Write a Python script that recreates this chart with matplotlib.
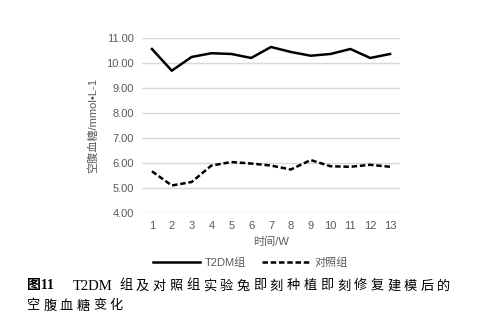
import matplotlib.pyplot as plt

plt.rcParams['font.family'] = ['Liberation Sans', 'Noto Sans CJK SC', 'DejaVu Sans']

# 数据
weeks = list(range(1, 14))
t2dm = [10.56, 9.69, 10.24, 10.39, 10.36, 10.20, 10.64, 10.44, 10.29, 10.36, 10.56, 10.20, 10.36]
control = [5.66, 5.09, 5.23, 5.89, 6.03, 5.97, 5.89, 5.73, 6.11, 5.86, 5.84, 5.92, 5.84]
yticks = [4, 5, 6, 7, 8, 9, 10, 11]
caption_l1 = "组及对照组实验兔即刻种植即刻修复建模后的"
caption_l2 = "空腹血糖变化"

W, H = 487, 333
fig = plt.figure(figsize=(W / 100, H / 100), dpi=100)
ax = fig.add_axes([142 / W, 1 - 212.7 / H, 258 / W, (212.7 - 38) / H])

grey = '#595959'
ax.plot(weeks, t2dm, color='black', lw=1.8, label='T2DM组')
ax.plot(weeks, control, color='black', lw=1.8, dashes=(2.2, 1.1), label='对照组')

ax.set_xlim(0.5, 13.5)
ax.set_ylim(4, 11)
ax.set_yticks(yticks)
ax.set_yticklabels([f'{v:.2f}' for v in yticks])
ax.set_xticks(weeks)
ax.grid(axis='y', color='#d9d9d9', lw=1)
ax.set_axisbelow(True)
for s in ax.spines.values():
    s.set_visible(False)
ax.tick_params(length=0, labelsize=8, colors=grey, pad=6)
ax.set_ylabel('空腹血糖/mmol•L-1', fontsize=8, color=grey, labelpad=6)
ax.set_xlabel('时间/W', fontsize=8, color=grey, labelpad=4)

fig.legend(loc='center left', bbox_to_anchor=(143 / W, 1 - 263 / H), ncol=2, frameon=False,
           fontsize=8, handlelength=4.2, columnspacing=1.4, handletextpad=0.5,
           labelcolor=grey)

# 图题
def px(x, y):
    return x / W, 1 - y / H

fig.text(*px(27, 286), '图11', fontsize=10, fontweight='bold', va='center',
         family=['Liberation Serif', 'Noto Sans CJK SC'])
fig.text(*px(73, 286), 'T2DM', fontsize=10.5, va='center', family='Liberation Serif')
for i, ch in enumerate(caption_l1):
    fig.text(*px(119 + i * 16.75, 286), ch, fontsize=9.5, va='center', family='Noto Sans CJK SC')
for i, ch in enumerate(caption_l2):
    fig.text(*px(27 + i * 16.5, 306), ch, fontsize=9.5, va='center', family='Noto Sans CJK SC')

fig.savefig('out.png', dpi=100)
